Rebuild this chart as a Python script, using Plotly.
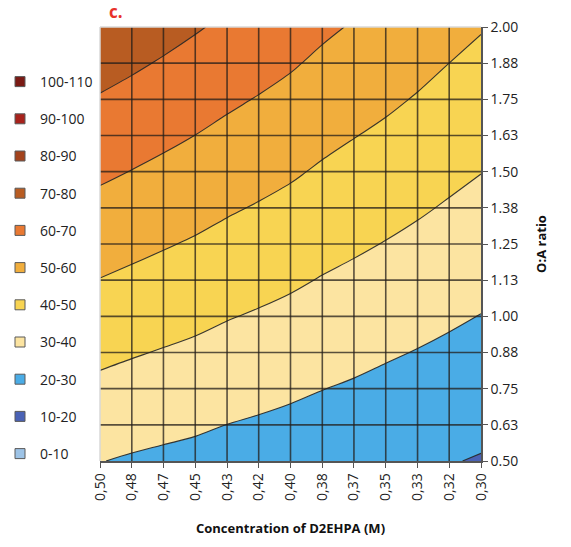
import plotly.graph_objects as go

# ---- data ----
x_labels = ["0,50", "0,48", "0,47", "0,45", "0,43", "0,42", "0,40",
            "0,38", "0,37", "0,35", "0,33", "0,32", "0,30"]
x_values = [0.5, 0.4833, 0.4667, 0.45, 0.4333, 0.4167, 0.4,
            0.3833, 0.3667, 0.35, 0.3333, 0.3167, 0.3]
y_labels = ["0.50", "0.63", "0.75", "0.88", "1.00", "1.13", "1.25",
            "1.38", "1.50", "1.63", "1.75", "1.88", "2.00"]
y_values = [0.5, 0.625, 0.75, 0.875, 1.0, 1.125, 1.25,
            1.375, 1.5, 1.625, 1.75, 1.875, 2.0]

# rows: O:A ratio from 0.50 (first) to 2.00 (last); columns follow x_values
z_rows = [
    [30.20, 29.16, 28.33, 27.55, 26.45, 25.66, 24.80, 23.85, 23.08, 22.06, 21.23, 20.40, 19.45],
    [34.11, 32.99, 32.05, 31.15, 29.95, 29.05, 28.08, 26.99, 26.10, 25.00, 24.05, 23.09, 22.04],
    [38.03, 36.82, 35.77, 34.75, 33.45, 32.44, 31.36, 30.13, 29.12, 27.94, 26.87, 25.78, 24.63],
    [41.94, 40.65, 39.49, 38.35, 36.95, 35.83, 34.64, 33.27, 32.14, 30.88, 29.69, 28.47, 27.22],
    [45.86, 44.48, 43.21, 41.95, 40.45, 39.22, 37.92, 36.41, 35.16, 33.82, 32.51, 31.16, 29.81],
    [49.77, 48.31, 46.93, 45.55, 43.95, 42.61, 41.20, 39.55, 38.18, 36.76, 35.33, 33.85, 32.40],
    [53.68, 52.14, 50.65, 49.15, 47.45, 46.00, 44.48, 42.69, 41.20, 39.70, 38.15, 36.54, 34.99],
    [57.60, 55.97, 54.37, 52.75, 50.95, 49.39, 47.76, 45.83, 44.22, 42.64, 40.97, 39.23, 37.58],
    [61.51, 59.80, 58.09, 56.35, 54.45, 52.78, 51.04, 48.97, 47.24, 45.58, 43.79, 41.92, 40.17],
    [65.43, 63.63, 61.81, 59.95, 57.95, 56.17, 54.32, 52.11, 50.26, 48.52, 46.61, 44.61, 42.76],
    [69.34, 67.46, 65.53, 63.55, 61.45, 59.56, 57.60, 55.25, 53.28, 51.46, 49.43, 47.30, 45.35],
    [73.25, 71.29, 69.25, 67.15, 64.95, 62.95, 60.88, 58.39, 56.30, 54.40, 52.25, 49.99, 47.94],
    [77.17, 75.12, 72.97, 70.75, 68.45, 66.34, 64.16, 61.53, 59.32, 57.34, 55.07, 52.68, 50.53],
]

band_labels = ["0-10", "10-20", "20-30", "30-40", "40-50", "50-60",
               "60-70", "70-80", "80-90", "90-100", "100-110"]
band_colors = ["#9DC3E6", "#4A62B5", "#4AACE6", "#FCE4A1", "#F8D452", "#F1AE3D",
               "#E97932", "#B85C22", "#A3431C", "#A8221C", "#7A1A14"]

FONT = "Open Sans"

fig = go.Figure()

n = len(band_colors)
colorscale = [[k / (n - 1), c] for k, c in enumerate(band_colors)]

fig.add_trace(go.Contour(
    x=x_values, y=y_values, z=z_rows,
    autocontour=False,
    contours=dict(start=10, end=100, size=10, coloring="fill"),
    colorscale=colorscale,
    showscale=False,
    line=dict(color="rgba(40,40,40,0.92)", width=1.1),
    hoverinfo="skip",
    showlegend=False,
))

# legend entries (top: 100-110, bottom: 0-10)
for lab, col in zip(band_labels[::-1], band_colors[::-1]):
    fig.add_trace(go.Scatter(
        x=[None], y=[None], mode="markers", name=lab, legendgroup=lab,
        marker=dict(symbol="square", size=10, color=col,
                    line=dict(color="#5a5a5a", width=1)),
    ))

# grid drawn over the filled contours
shapes = []
for xv in x_values[1:-1]:
    shapes.append(dict(type="line", xref="x", yref="paper", x0=xv, x1=xv, y0=0, y1=1,
                       line=dict(color="rgba(35,30,25,0.75)", width=1.6), layer="above"))
for yv in y_values[1:-1]:
    shapes.append(dict(type="line", xref="paper", yref="y", x0=0, x1=1, y0=yv, y1=yv,
                       line=dict(color="rgba(35,30,25,0.75)", width=1.6), layer="above"))
# light frame on top and left
shapes.append(dict(type="line", xref="paper", yref="paper", x0=0, x1=1, y0=1, y1=1,
                   line=dict(color="#d9d9d9", width=1.5), layer="above"))
shapes.append(dict(type="line", xref="paper", yref="paper", x0=0, x1=0, y0=0, y1=1,
                   line=dict(color="#d9d9d9", width=1.5), layer="above"))

fig.update_layout(
    width=571, height=547,
    margin=dict(l=100, r=90, t=27, b=86, autoexpand=False),
    paper_bgcolor="white", plot_bgcolor="white",
    font=dict(family=FONT, size=14, color="#222"),
    shapes=shapes,
    showlegend=True,
    legend=dict(
        xref="container", yref="container", x=0.0, y=1 - 66 / 547,
        xanchor="left", yanchor="top",
        tracegroupgap=16, itemwidth=30, maxheight=520,
        font=dict(family=FONT, size=14, color="#222"),
        bgcolor="rgba(0,0,0,0)",
    ),
    annotations=[dict(
        text="<b>c.</b>", xref="paper", yref="paper",
        x=0.018, y=1.035, xanchor="left", yanchor="middle", showarrow=False,
        font=dict(family=FONT, size=17, color="#E8312A"),
    )],
)

fig.update_xaxes(
    range=[0.5, 0.3],
    tickmode="array", tickvals=x_values, ticktext=x_labels,
    tickangle=-90, ticks="outside", ticklen=5, tickcolor="#555",
    showline=True, linecolor="#555", linewidth=1.5,
    showgrid=False, zeroline=False,
    tickfont=dict(family=FONT, size=14, color="#222"),
    title=dict(text="<b>Concentration of D2EHPA (M)</b>",
               font=dict(family=FONT, size=13, color="#111"), standoff=24),
)
fig.update_yaxes(
    range=[0.5, 2.0], side="right",
    tickmode="array", tickvals=y_values, ticktext=y_labels,
    ticks="outside", ticklen=5, tickcolor="#555",
    showline=True, linecolor="#555", linewidth=1.5,
    showgrid=False, zeroline=False,
    tickfont=dict(family=FONT, size=14, color="#222"),
    title=dict(text="<b>O:A ratio</b>",
               font=dict(family=FONT, size=13, color="#111"), standoff=20),
)

fig.write_html("out.html")
